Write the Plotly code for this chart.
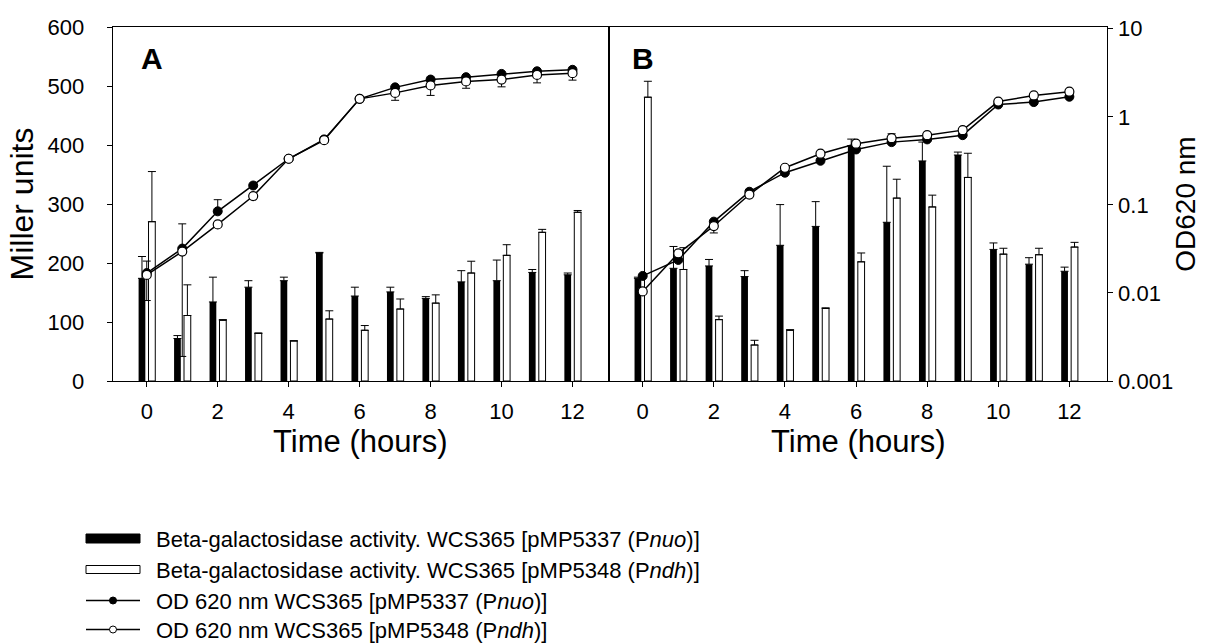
import plotly.graph_objects as go

hours = [0, 1, 2, 3, 4, 5, 6, 7, 8, 9, 10, 11, 12]

# Panel A - beta-galactosidase activity (Miller units)
a_nuo_bgal = [174, 72, 134, 159, 170, 217, 144, 151, 140, 168, 170, 184, 180]
a_nuo_bgal_err = [37, 5, 42, 11, 6, 1, 15, 8, 3, 19, 35, 5, 3]
a_ndh_bgal = [270, 111, 103, 81, 68, 105, 86, 122, 132, 183, 213, 252, 286]
a_ndh_bgal_err = [85, 52, 1, 0, 0, 14, 8, 17, 14, 20, 18, 5, 3]

# Panel B - beta-galactosidase activity (Miller units)
b_nuo_bgal = [174, 191, 195, 177, 230, 262, 399, 269, 373, 383, 223, 198, 186]
b_nuo_bgal_err = [2, 37, 11, 10, 69, 42, 11, 95, 32, 5, 11, 11, 7]
b_ndh_bgal = [481, 189, 104, 61, 86, 123, 202, 310, 295, 345, 215, 214, 227]
b_ndh_bgal_err = [27, 37, 6, 8, 1, 1, 15, 32, 20, 41, 10, 11, 8]

# Panel A - OD 620 nm
a_nuo_od = [0.0168, 0.0319, 0.0845, 0.166, 0.334, 0.554, 1.60, 2.16, 2.65, 2.82, 3.07, 3.29, 3.42]
a_nuo_od_plus = [0, 0.029, 0.03, 0, 0, 0, 0, 0, 0, 0, 0, 0, 0]
a_nuo_od_minus = [0, 0.030, 0, 0, 0, 0, 0, 0, 0, 0, 0, 0, 0]
a_ndh_od = [0.016, 0.0295, 0.060, 0.126, 0.334, 0.543, 1.60, 1.87, 2.27, 2.52, 2.65, 2.99, 3.13]
a_ndh_od_plus = [0.007, 0, 0, 0, 0, 0, 0, 0, 0, 0, 0, 0, 0]
a_ndh_od_minus = [0.0078, 0, 0, 0, 0, 0, 0, 0.33, 0.52, 0.41, 0.46, 0.56, 0.52]

# Panel B - OD 620 nm
b_nuo_od = [0.0156, 0.0237, 0.0645, 0.141, 0.232, 0.317, 0.426, 0.516, 0.554, 0.619, 1.38, 1.47, 1.69]
b_ndh_od = [0.0104, 0.0282, 0.0575, 0.131, 0.264, 0.381, 0.495, 0.572, 0.619, 0.706, 1.49, 1.75, 1.93]
b_ndh_od_plus = [0, 0, 0, 0, 0, 0, 0, 0.07, 0, 0, 0, 0, 0]
b_ndh_od_minus = [0, 0, 0.0095, 0, 0, 0, 0, 0, 0, 0, 0, 0, 0]

x_ticks = [0, 2, 4, 6, 8, 10, 12]
miller_ticks = [0, 100, 200, 300, 400, 500, 600]
od_ticks = [0.001, 0.01, 0.1, 1, 10]
od_tick_text = ["0.001", "0.01", "0.1", "1", "10"]

legend_labels = [
    "Beta-galactosidase activity. WCS365 [pMP5337 (P<i>nuo</i>)]",
    "Beta-galactosidase activity. WCS365 [pMP5348 (P<i>ndh</i>)]",
    "OD 620 nm WCS365 [pMP5337 (P<i>nuo</i>)]",
    "OD 620 nm WCS365 [pMP5348 (P<i>ndh</i>)]",
]

FONT = "Liberation Sans, Arial, sans-serif"
BW = 0.19
W, H = 1205, 644


def px(x):
    return x / W


def py(y):
    return 1 - y / H


fig = go.Figure()


def bar_err(vals):
    return dict(type="data", array=vals, arrayminus=[0] * len(vals), symmetric=False,
                color="black", thickness=1, width=4)


def od_err(plus, minus):
    return dict(type="data", array=plus, arrayminus=minus, symmetric=False,
                color="black", thickness=1, width=4)


for xa, ya, nuo, nuo_e, ndh, ndh_e in [
    ("x", "y", a_nuo_bgal, a_nuo_bgal_err, a_ndh_bgal, a_ndh_bgal_err),
    ("x2", "y3", b_nuo_bgal, b_nuo_bgal_err, b_ndh_bgal, b_ndh_bgal_err),
]:
    fig.add_trace(go.Bar(x=hours, y=nuo, width=BW, offset=-0.23, xaxis=xa, yaxis=ya,
                         marker=dict(color="black", line=dict(width=0)),
                         error_y=bar_err(nuo_e), name=legend_labels[0], showlegend=False))
    fig.add_trace(go.Bar(x=hours, y=ndh, width=BW, offset=0.05, xaxis=xa, yaxis=ya,
                         marker=dict(color="white", line=dict(color="black", width=1)),
                         error_y=bar_err(ndh_e), name=legend_labels[1], showlegend=False))

for xa, ya, nuo, nuo_p, nuo_m, ndh, ndh_p, ndh_m in [
    ("x", "y2", a_nuo_od, a_nuo_od_plus, a_nuo_od_minus, a_ndh_od, a_ndh_od_plus, a_ndh_od_minus),
    ("x2", "y4", b_nuo_od, [0] * 13, [0] * 13, b_ndh_od, b_ndh_od_plus, b_ndh_od_minus),
]:
    fig.add_trace(go.Scatter(x=hours, y=nuo, xaxis=xa, yaxis=ya, mode="lines+markers",
                             line=dict(color="black", width=1.5),
                             marker=dict(symbol="circle", size=9, color="black",
                                         line=dict(color="black", width=1)),
                             error_y=od_err(nuo_p, nuo_m), name=legend_labels[2],
                             showlegend=False))
    fig.add_trace(go.Scatter(x=hours, y=ndh, xaxis=xa, yaxis=ya, mode="lines+markers",
                             line=dict(color="black", width=1.5),
                             marker=dict(symbol="circle", size=9, color="white",
                                         line=dict(color="black", width=1.2)),
                             error_y=od_err(ndh_p, ndh_m), name=legend_labels[3],
                             showlegend=False))

dom_y = [py(381), py(27)]
tickfont = dict(family=FONT, size=22, color="black")
titlefont = dict(family=FONT, size=31, color="black")

common_x = dict(tickvals=x_ticks, ticks="outside", ticklen=5, tickcolor="black",
                showline=True, linecolor="black", linewidth=1, mirror=True,
                showgrid=False, zeroline=False, tickfont=tickfont, automargin=False,
                ticklabelstandoff=6,
                title=dict(text="Time (hours)", font=titlefont, standoff=0))

# ---- custom legend (symbols as layout shapes, labels as annotations) ----
leg_rows = [538.5, 569.5, 600.5, 629.5]
sym_x0, sym_x1, txt_x = 86, 140, 154
shapes = [
    dict(type="rect", xref="paper", yref="paper", x0=px(sym_x0), x1=px(sym_x1),
         y0=py(leg_rows[0] + 4.5), y1=py(leg_rows[0] - 4.5),
         fillcolor="black", line=dict(color="black", width=1)),
    dict(type="rect", xref="paper", yref="paper", x0=px(sym_x0), x1=px(sym_x1),
         y0=py(leg_rows[1] + 4), y1=py(leg_rows[1] - 4),
         fillcolor="white", line=dict(color="black", width=1)),
]
for i, fill in [(2, "black"), (3, "white")]:
    shapes.append(dict(type="line", xref="paper", yref="paper", x0=px(sym_x0), x1=px(sym_x1),
                       y0=py(leg_rows[i]), y1=py(leg_rows[i]),
                       line=dict(color="black", width=1.5)))
    shapes.append(dict(type="circle", xref="paper", yref="paper",
                       x0=px(113 - 3.5), x1=px(113 + 3.5),
                       y0=py(leg_rows[i] + 3.5), y1=py(leg_rows[i] - 3.5),
                       fillcolor=fill, line=dict(color="black", width=1)))

annotations = [
    dict(text="<b>A</b>", x=px(152), y=py(58), xref="paper", yref="paper",
         xanchor="center", yanchor="middle",
         showarrow=False, font=dict(family=FONT, size=30, color="black")),
    dict(text="<b>B</b>", x=px(643), y=py(58), xref="paper", yref="paper",
         xanchor="center", yanchor="middle",
         showarrow=False, font=dict(family=FONT, size=30, color="black")),
]
for lab, yy in zip(legend_labels, leg_rows):
    annotations.append(dict(text=lab, x=px(txt_x), y=py(yy + 1), xref="paper", yref="paper",
                            xanchor="left", yanchor="middle", showarrow=False,
                            font=dict(family=FONT, size=22, color="black")))

fig.update_layout(
    width=W, height=H,
    margin=dict(l=0, r=0, t=0, b=0, autoexpand=False),
    paper_bgcolor="white", plot_bgcolor="white",
    barmode="overlay", showlegend=False,
    font=dict(family=FONT, color="black"),
    xaxis=dict(common_x, domain=[px(112.7), px(608)], range=[-0.96, 13.0], anchor="y"),
    xaxis2=dict(common_x, domain=[px(610), px(1106.7)], range=[-0.92, 13.05], anchor="y3"),
    yaxis=dict(domain=dom_y, range=[0, 600], tickvals=miller_ticks, ticks="outside", ticklen=5,
               tickcolor="black", showline=True, linecolor="black", linewidth=1, mirror=True,
               showgrid=False, zeroline=False, tickfont=tickfont, anchor="x",
               automargin=False, ticklabelstandoff=18,
               title=dict(text="Miller units", font=dict(family=FONT, size=32, color="black"),
                          standoff=4)),
    yaxis2=dict(overlaying="y", type="log", range=[-3, 1.02], visible=False, anchor="x",
                automargin=False),
    yaxis3=dict(domain=dom_y, range=[0, 600], showticklabels=False, ticks="", showline=True,
                linecolor="black", linewidth=1, mirror=True, showgrid=False, zeroline=False,
                anchor="x2", automargin=False),
    yaxis4=dict(overlaying="y3", type="log", range=[-3, 1.02], side="right", anchor="x2",
                tickvals=od_ticks, ticktext=od_tick_text, ticks="outside", ticklen=5,
                tickcolor="black", showline=True, linecolor="black", linewidth=1,
                showgrid=False, zeroline=False, tickfont=tickfont, automargin=False,
                ticklabelstandoff=1,
                title=dict(text="OD620 nm", font=dict(family=FONT, size=28, color="black"),
                           standoff=3)),
    shapes=shapes,
    annotations=annotations,
)

fig.write_html("out.html", config={"displayModeBar": False},
               post_script="document.body.style.margin='0px';")
